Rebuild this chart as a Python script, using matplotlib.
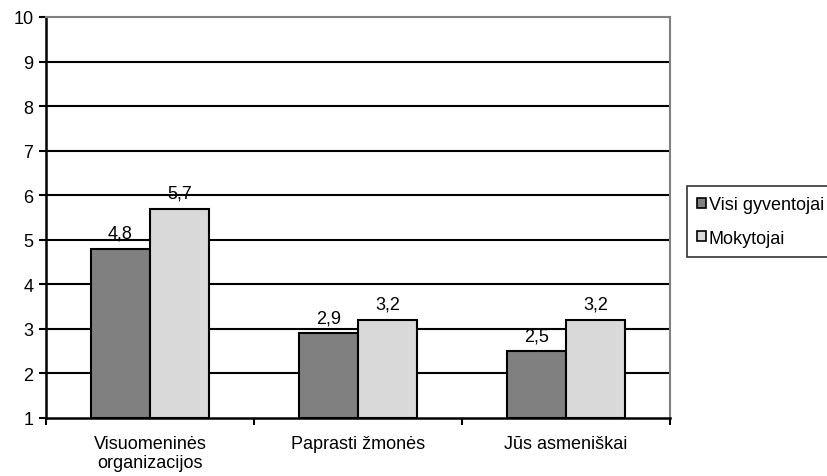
import matplotlib.pyplot as plt
import numpy as np

plt.rcParams['font.family'] = ['Liberation Sans', 'DejaVu Sans']

categories = ['Visuomeninės\norganizacijos', 'Paprasti žmonės', 'Jūs asmeniškai']
series_names = ['Visi gyventojai', 'Mokytojai']
visi = [4.8, 2.9, 2.5]
mokytojai = [5.7, 3.2, 3.2]
colors = ['#808080', '#d9d9d9']

fs = 13

fig = plt.figure(figsize=(8.28, 4.77), dpi=100)
ax = fig.add_axes([46/828, 1 - 419/477, (670 - 46)/828, (419 - 18)/477])

x = np.arange(len(categories))
w = 0.284
base = 1

for i, (vals, name) in enumerate(zip([visi, mokytojai], series_names)):
    pos = x + (i - 0.5) * w
    heights = [v - base for v in vals]
    ax.bar(pos, heights, w, bottom=base, color=colors[i], edgecolor='black',
           lw=1.5, label=name, zorder=3)
    for p, v in zip(pos, vals):
        ax.text(p, v + 0.25, ('%.1f' % v).replace('.', ','), ha='center',
                va='baseline', fontsize=fs)

ax.set_xlim(-0.5, len(categories) - 0.5)
ax.set_ylim(1, 10)
ax.set_yticks(np.arange(1, 11))
for y in range(2, 10):
    ax.axhline(y, color='black', lw=1.5, zorder=1)

ax.set_xticks(x)
ax.set_xticklabels(categories, fontsize=fs, linespacing=1.15)
ax.tick_params(axis='x', length=0, pad=12)
ax.set_xticks(np.arange(-0.5, len(categories)), minor=True)
ax.tick_params(axis='x', which='minor', length=5, width=1.5, direction='out')
ax.tick_params(axis='y', length=5, width=1.5, labelsize=fs, pad=4)

ax.spines['left'].set_linewidth(1.8)
ax.spines['bottom'].set_linewidth(1.8)
ax.spines['top'].set_color('#808080')
ax.spines['right'].set_color('#808080')
ax.spines['top'].set_linewidth(1.5)
ax.spines['right'].set_linewidth(1.5)

leg = ax.legend(loc='center left', bbox_to_anchor=(687/624 - 46/624, 1 - (222.5 - 18)/401),
                fontsize=fs, frameon=True, fancybox=False, edgecolor='black',
                handlelength=0.5, handleheight=0.5, handletextpad=0.15,
                borderpad=0.55, labelspacing=0.9, borderaxespad=0)
leg.get_frame().set_linewidth(1.2)
for h in leg.legend_handles:
    h.set_linewidth(1.2)
    h.set_edgecolor('black')

fig.savefig('out.png', dpi=100)
